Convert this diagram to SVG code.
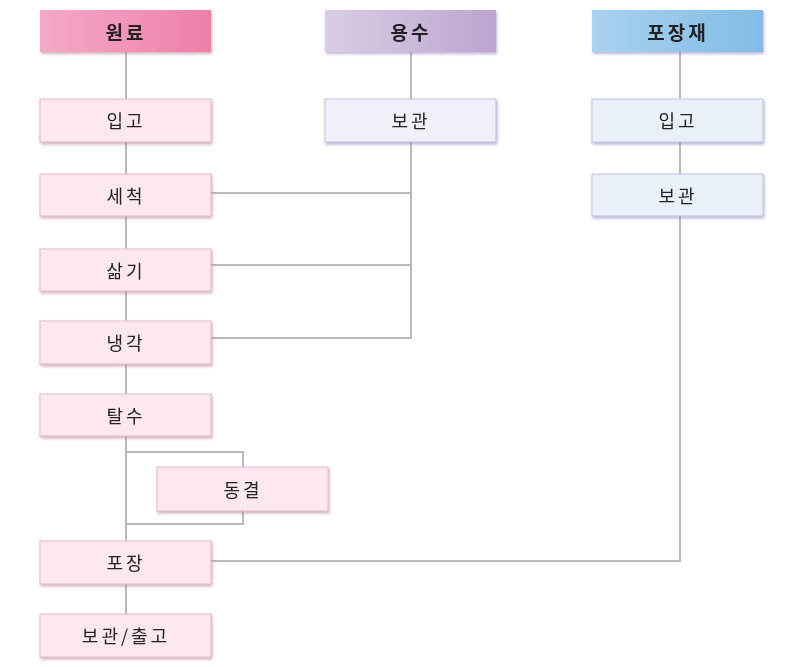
<svg xmlns="http://www.w3.org/2000/svg" width="800" height="667" viewBox="0 0 800 667">
<defs>
<linearGradient id="gP" x1="0" x2="1"><stop offset="0" stop-color="#f4a9c8"/><stop offset="1" stop-color="#ee7fab"/></linearGradient>
<linearGradient id="gV" x1="0" x2="1"><stop offset="0" stop-color="#d9cde4"/><stop offset="1" stop-color="#bca5d0"/></linearGradient>
<linearGradient id="gB" x1="0" x2="1"><stop offset="0" stop-color="#a9d2f0"/><stop offset="1" stop-color="#82bce6"/></linearGradient>
<filter id="sh" x="-10%" y="-20%" width="120%" height="150%"><feDropShadow dx="1" dy="2" stdDeviation="1.5" flood-color="#b07090" flood-opacity="0.55"/></filter>
<filter id="shv" x="-10%" y="-20%" width="120%" height="150%"><feDropShadow dx="1" dy="2" stdDeviation="1.5" flood-color="#8878b8" flood-opacity="0.55"/></filter>
</defs>
<style>
text{font-family:"Noto Sans CJK KR",sans-serif;font-size:18px;text-anchor:middle;dominant-baseline:central;fill:#222;letter-spacing:3px}
.h{font-weight:bold;font-size:19px}
.p{fill:#fde8f0;stroke:#e3b9c9;stroke-width:1}
.v{fill:#f3eef7;stroke:#c9bde0;stroke-width:1}
.b{fill:#eaf0f9;stroke:#c0c6e4;stroke-width:1}
.c{fill:none;stroke:#b9b9b9;stroke-width:2}
</style>
<g id="connectors">
<path class="c" d="M126 52V614"/>
<path class="c" d="M411 52V99M411 142V338H211M211 193H411M211 265H411"/>
<path class="c" d="M680 52V99M680 142V174M680 216V561H211"/>
<path class="c" d="M126 452H243V467M243 511V524H126"/>
</g>
<g id="n1" filter="url(#sh)"><rect x="40" y="10" width="171" height="42" fill="url(#gP)"/><text class="h" x="126" y="31">원료</text></g>
<g id="n2" filter="url(#shv)"><rect x="325" y="10" width="171" height="42" fill="url(#gV)"/><text class="h" x="411" y="31">용수</text></g>
<g id="n3" filter="url(#shv)"><rect x="592" y="10" width="171" height="42" fill="url(#gB)"/><text class="h" x="678" y="31">포장재</text></g>
<g id="n4" filter="url(#sh)"><rect class="p" x="40" y="99" width="171" height="43"/><text x="126" y="120">입고</text></g>
<g id="n5" filter="url(#shv)"><rect class="v" x="325" y="99" width="171" height="43"/><text x="411" y="120">보관</text></g>
<g id="n6" filter="url(#shv)"><rect class="b" x="592" y="99" width="171" height="43"/><text x="678" y="120">입고</text></g>
<g id="n7" filter="url(#shv)"><rect class="b" x="592" y="174" width="171" height="42"/><text x="678" y="195">보관</text></g>
<g id="n8" filter="url(#sh)"><rect class="p" x="40" y="174" width="171" height="42"/><text x="126" y="195">세척</text></g>
<g id="n9" filter="url(#sh)"><rect class="p" x="40" y="249" width="171" height="42"/><text x="126" y="270">삶기</text></g>
<g id="n10" filter="url(#sh)"><rect class="p" x="40" y="321" width="171" height="43"/><text x="126" y="342">냉각</text></g>
<g id="n11" filter="url(#sh)"><rect class="p" x="40" y="394" width="171" height="42"/><text x="126" y="415">탈수</text></g>
<g id="n12" filter="url(#sh)"><rect class="p" x="157" y="467" width="171" height="44"/><text x="243" y="489">동결</text></g>
<g id="n13" filter="url(#sh)"><rect class="p" x="40" y="541" width="171" height="43"/><text x="126" y="562">포장</text></g>
<g id="n14" filter="url(#sh)"><rect class="p" x="40" y="614" width="171" height="43"/><text x="126" y="635">보관/출고</text></g>
</svg>
